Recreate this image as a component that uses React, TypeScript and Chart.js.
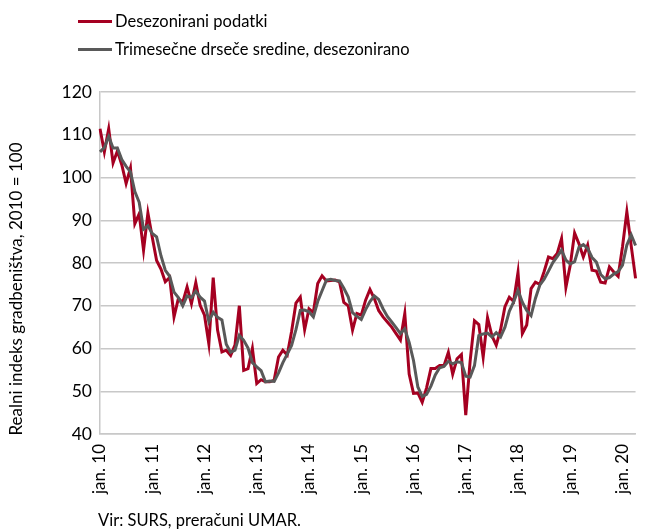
import React, { useEffect, useRef } from "react";
import { Chart, registerables } from "chart.js";

Chart.register(...registerables);

const monthNames = ["jan.", "feb.", "mar.", "apr.", "maj", "jun.", "jul.", "avg.", "sep.", "okt.", "nov.", "dec."];
const yearLabels = ["10", "11", "12", "13", "14", "15", "16", "17", "18", "19", "20"];
const tickLabels = ["jan. 10", "jan. 11", "jan. 12", "jan. 13", "jan. 14", "jan. 15", "jan. 16", "jan. 17", "jan. 18", "jan. 19", "jan. 20"];

// Desezonirani podatki (Jan 2010 – Apr 2020)
const seasonallyAdjusted = [
  111.4, 106, 111.4, 103.4, 106.2, 103, 98.6, 102.2, 89.2, 91.5, 83, 91.7,
  86, 80.6, 78.6, 75.6, 76.6, 67.4, 71.7, 70.8, 74.4, 70.5, 75.4, 70.1,
  67.8, 61.1, 76.6, 64.3, 59.2, 59.6, 58.4, 60.8, 70, 54.9, 55.3, 60,
  51.8, 52.7, 52.2, 52.2, 52.6, 58, 59.6, 58.5, 64, 70.6, 72, 64.4,
  69.3, 68.4, 75.2, 77, 75.8, 75.9, 76, 75.6, 70.8, 70, 64.3, 68.2,
  67.8, 71.3, 73.8, 71.7, 68.9, 67.4, 66.2, 65, 63.5, 62, 68.2, 54,
  49.5, 49.6, 47.4, 50.8, 55.3, 55.3, 56, 56, 59.1, 54, 57.6, 58.6,
  44.4, 57, 66.5, 65.6, 58, 67.2, 63, 60.8, 64.4, 69.8, 72, 71,
  77.8, 63.5, 65.5, 74, 75.5, 75, 78, 81.4, 81, 82.2, 85.7, 74.3,
  79.5, 87, 84.5, 81.4, 84.2, 78.3, 78.1, 75.5, 75.3, 79.1, 77.9, 76.9,
  83.8, 92, 84, 76.4,
];

// Trimesečne drseče sredine, desezonirano
const movingAverage = [
  106, 107, 109.6, 106.9, 106.9, 104.2, 102.6, 101.3, 96.7, 94.2, 87.9, 88.7,
  86.9, 86.1, 81.7, 78.3, 76.9, 73.2, 71.9, 70, 72.3, 71.9, 73.4, 72,
  71.1, 66.3, 68.5, 67.3, 66.7, 61, 59.1, 59.6, 63.1, 61.9, 60.1, 56.7,
  55.7, 54.8, 52.2, 52.4, 52.3, 54.3, 56.7, 58.7, 60.7, 64.4, 68.9, 69,
  68.6, 67.4, 71, 73.5, 76, 76.2, 75.9, 75.8, 74.1, 72.1, 68.4, 67.5,
  66.8, 69.1, 71, 72.3, 71.5, 69.3, 67.5, 66.2, 64.9, 63.5, 64.6, 61.4,
  57.2, 51, 48.8, 49.3, 51.2, 53.8, 55.5, 55.8, 57, 56.4, 56.9, 56.7,
  53.5, 53.3, 56, 63, 63.4, 63.6, 62.7, 63.7, 62.7, 65, 68.7, 70.9,
  73.6, 70.8, 68.9, 67.7, 71.7, 74.8, 76.2, 78.1, 80.1, 81.5, 83, 80.7,
  79.8, 80.3, 83.7, 84.3, 83.4, 81.3, 80.2, 77.3, 76.3, 76.6, 77.4, 78,
  79.5, 84.2, 86.6, 84.1,
];

const categories: string[] = [];
yearLabels.forEach((y) => monthNames.forEach((m) => categories.push(`${m} ${y}`)));
categories.length = seasonallyAdjusted.length;

const RED = "#a50021";
const GREY = "#595959";
const GRID = "#c8c8c8";
const FONT = "Lato, 'Open Sans', sans-serif";

const yTitlePlugin = {
  id: "yTitle",
  afterDraw(chart: any) {
    const ctx = chart.ctx;
    ctx.save();
    ctx.translate(17, 289);
    ctx.rotate(-Math.PI / 2);
    ctx.textAlign = "center";
    ctx.textBaseline = "middle";
    ctx.fillStyle = "#000";
    ctx.font = `17px ${FONT}`;
    ctx.fillText("Realni indeks gradbeništva, 2010 = 100", 0, 0);
    ctx.restore();
  },
};

export default function App() {
  const ref = useRef<HTMLCanvasElement>(null);
  useEffect(() => {
    if (!ref.current) return;
    const chart = new Chart(ref.current, {
      type: "line",
      data: {
        labels: categories,
        datasets: [
          {
            label: "Desezonirani podatki",
            data: seasonallyAdjusted,
            borderColor: RED,
            backgroundColor: RED,
            borderWidth: 3,
            pointRadius: 0,
            tension: 0,
            order: 2,
          },
          {
            label: "Trimesečne drseče sredine, desezonirano",
            data: movingAverage,
            borderColor: GREY,
            backgroundColor: GREY,
            borderWidth: 3,
            pointRadius: 0,
            tension: 0,
            order: 1,
          },
        ],
      },
      options: {
        responsive: false,
        animation: false,
        layout: { padding: { top: 92, right: 4, left: 0, bottom: 0 } },
        plugins: { legend: { display: false }, tooltip: { enabled: false } },
        scales: {
          x: {
            type: "category",
            offset: false,
            grid: { display: false, drawTicks: false },
            border: { display: true, color: GRID, width: 1.5 },
            ticks: {
              autoSkip: false,
              minRotation: 90,
              maxRotation: 90,
              padding: 10,
              color: "#000",
              font: { family: FONT, size: 17 },
              callback: (_v: any, i: number) => (tickLabels.includes(categories[i]) ? categories[i] : null),
            },
            afterFit: (s: any) => {
              s.height = 98;
            },
          },
          y: {
            min: 40,
            max: 120,
            grid: { color: GRID, lineWidth: 1.5, drawTicks: false },
            border: { display: true, color: GRID, width: 1.5 },
            ticks: {
              stepSize: 10,
              padding: 8,
              color: "#000",
              font: { family: FONT, size: 17.5 },
            },
            afterFit: (s: any) => {
              s.width = 100;
            },
          },
        },
      },
      plugins: [yTitlePlugin],
    });
    return () => chart.destroy();
  }, []);

  const legendRow = (color: string, text: string, top: number) => (
    <div style={{ position: "absolute", left: 78, top: top - 12, height: 24, display: "flex", alignItems: "center" }}>
      <span style={{ display: "inline-block", width: 34, height: 3, background: color, marginRight: 3 }} />
      <span style={{ fontFamily: FONT, fontSize: 16.5, color: "#000", whiteSpace: "nowrap" }}>{text}</span>
    </div>
  );

  return (
    <div style={{ position: "fixed", left: 0, top: 0, width: 653, height: 532, overflow: "hidden", background: "#fff" }}>
      <canvas ref={ref} width={653} height={532} style={{ position: "absolute", left: 0, top: 0 }} />
      {legendRow(RED, "Desezonirani podatki", 21)}
      {legendRow(GREY, "Trimesečne drseče sredine, desezonirano", 49)}
      <div
        style={{
          position: "absolute",
          left: 98,
          top: 508,
          fontFamily: FONT,
          fontSize: 16.5,
          color: "#000",
          whiteSpace: "nowrap",
          lineHeight: "24px",
        }}
      >
        Vir: SURS, preračuni UMAR.
      </div>
    </div>
  );
}
